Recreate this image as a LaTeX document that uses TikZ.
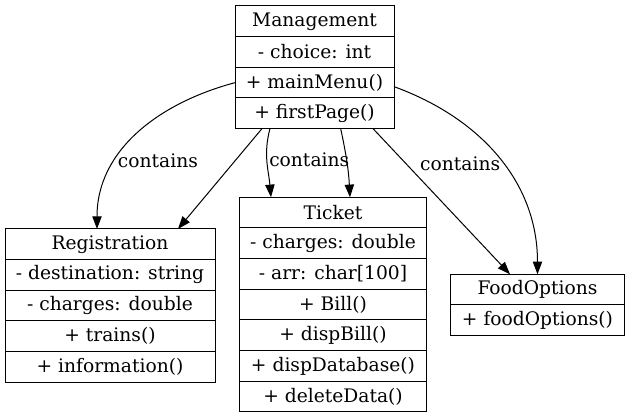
\documentclass[tikz,border=0pt]{standalone}
\usepackage{fontspec}
\setmainfont{DejaVu Serif}
\usetikzlibrary{positioning, arrows.meta}

\begin{document}
\begin{tikzpicture}[x=0.75pt, y=-0.75pt, font=\fontsize{14}{16}\selectfont,
  field/.style={rectangle, draw, line width=0.75pt, minimum height=23pt, inner sep=0pt, outer sep=0pt, align=center},
  link/.style={line width=0.75pt, -{Triangle[length=9.5pt,width=7pt]}},
  tag/.style={inner sep=1.5pt}]
\useasboundingbox (0,0) rectangle (629,419);
% Management
\node[field, minimum width=119.25pt] (m1) at (314.5,21.3) {Management};
\node[field, minimum width=119.25pt, below=0pt of m1] (m2) {- choice: int};
\node[field, minimum width=119.25pt, below=0pt of m2] (m3) {+ mainMenu()};
\node[field, minimum width=119.25pt, below=0pt of m3] (m4) {+ firstPage()};
% Registration
\node[field, minimum width=157.5pt] (r1) at (110,244.3) {Registration};
\node[field, minimum width=157.5pt, below=0pt of r1] (r2) {- destination: string};
\node[field, minimum width=157.5pt, below=0pt of r2] (r3) {- charges: double};
\node[field, minimum width=157.5pt, below=0pt of r3] (r4) {+ trains()};
\node[field, minimum width=157.5pt, below=0pt of r4] (r5) {+ information()};
% Ticket
\node[field, minimum width=140.5pt] (t1) at (333,212.6) {Ticket};
\node[field, minimum width=140.5pt, below=0pt of t1] (t2) {- charges: double};
\node[field, minimum width=140.5pt, below=0pt of t2] (t3) {- arr: char[100]};
\node[field, minimum width=140.5pt, below=0pt of t3] (t4) {+ Bill()};
\node[field, minimum width=140.5pt, below=0pt of t4] (t5) {+ dispBill()};
\node[field, minimum width=140.5pt, below=0pt of t5] (t6) {+ dispDatabase()};
\node[field, minimum width=140.5pt, below=0pt of t6] (t7) {+ deleteData()};
% FoodOptions
\node[field, minimum width=130.2pt] (f1) at (537.5,289.6) {FoodOptions};
\node[field, minimum width=130.2pt, below=0pt of f1] (f2) {+ foodOptions()};

\draw[link] (m3.west) to[out=195, in=90] node[tag, pos=0.67, right] {contains} ([xshift=-9.75pt]r1.north);
\draw[link] ([xshift=-39.4pt]m4.south) -- ([xshift=51pt]r1.north);
\draw[link] ([xshift=-33.4pt]m4.south) to[out=-105, in=95] node[tag, pos=0.45, right] {contains} ([xshift=-46.5pt]t1.north);
\draw[link] ([xshift=19.65pt]m4.south) to[out=-78, in=93] ([xshift=12.75pt]t1.north);
\draw[link] ([xshift=43.9pt]m4.south) -- ([xshift=-20.6pt]f1.north);
\draw[link] ([yshift=-3pt]m3.east) to[out=-20, in=90] node[tag, pos=0.53, left] {contains} (f1.north);
\end{tikzpicture}
\end{document}
